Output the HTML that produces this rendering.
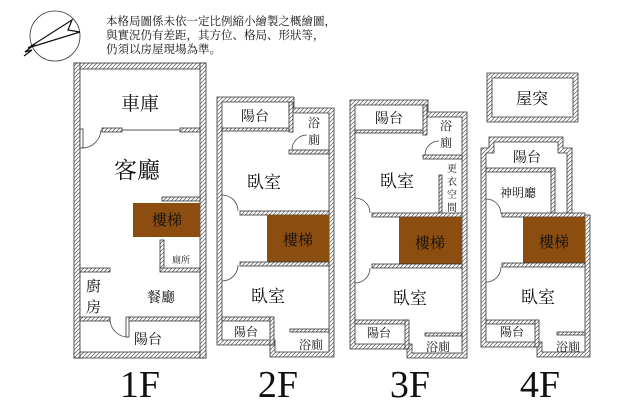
<!DOCTYPE html>
<html><head><meta charset="utf-8"><style>
html,body{margin:0;padding:0;background:#fff;}
svg{display:block}
text{font-family:"Liberation Serif","Noto Serif CJK SC","Noto Sans CJK TC",serif;fill:#111}
.w{fill:url(#h);stroke:#333;stroke-width:0.8}
.d{fill:none;stroke:#444;stroke-width:0.8}
</style></head><body>
<svg width="640" height="414" viewBox="0 0 640 414" xmlns="http://www.w3.org/2000/svg">
<defs>
<pattern id="h" width="4" height="4" patternUnits="userSpaceOnUse">
<rect width="4" height="4" fill="#fff"/>
<path d="M-1,5 L5,-1 M3,5 L5,3 M-1,1 L1,-1" stroke="#555" stroke-width="0.7"/>
</pattern>
</defs>
<!-- compass -->
<circle cx="55" cy="36" r="25" fill="none" stroke="#333" stroke-width="0.8"/>
<path d="M28,48 L72,20 L68,30 L80,32 Z" fill="none" stroke="#111" stroke-width="1.2"/>
<path d="M35,44 L25,52 L32,50 L24,56" fill="none" stroke="#111" stroke-width="1.2"/>
<text x="106" y="25" font-size="11.5" font-family="Noto Sans CJK TC">本格局圖係未依一定比例縮小繪製之概繪圖，</text>
<text x="106" y="39" font-size="11.5">與實況仍有差距，其方位、格局、形狀等，</text>
<text x="106" y="53" font-size="11.5">仍須以房屋現場為準。</text>

<!-- 1F -->
<rect class="w" x="74" y="63" width="132" height="6"/>
<rect class="w" x="74" y="352" width="132" height="6"/>
<rect class="w" x="74" y="63" width="6" height="295"/>
<rect class="w" x="200" y="63" width="6" height="295"/>
<rect class="w" x="102" y="128" width="20" height="4"/>
<rect class="w" x="180" y="128" width="20" height="4"/>
<line x1="122" y1="130" x2="180" y2="130" stroke="#555" stroke-width="1"/>
<path class="d" d="M82,148 A19,19 0 0 0 101,130"/>
<rect x="80" y="129" width="3" height="19" fill="#fff" stroke="#333" stroke-width="0.8"/>
<rect x="133" y="203" width="67" height="34" fill="#8b4d10"/>
<rect class="w" x="162" y="197" width="38" height="4"/>
<rect class="w" x="160" y="240" width="4" height="30"/>
<rect class="w" x="80" y="268" width="30" height="4"/>
<rect class="w" x="160" y="268" width="40" height="4"/>
<rect class="w" x="80" y="317" width="30" height="4"/>
<rect class="w" x="128" y="317" width="72" height="4"/>
<path class="d" d="M110,319 A18,18 0 0 0 128,337"/>
<rect x="126" y="317" width="3" height="20" fill="#fff" stroke="#333" stroke-width="0.8"/>
<text x="140" y="110" font-size="19" text-anchor="middle">車庫</text>
<text x="137" y="178" font-size="23" text-anchor="middle">客廳</text>
<text x="167" y="225" font-size="15" text-anchor="middle">樓梯</text>
<text x="181" y="263" font-size="9" text-anchor="middle">廁所</text>
<text x="86" y="291" font-size="15">廚</text>
<text x="86" y="312" font-size="15">房</text>
<text x="147" y="302" font-size="14">餐廳</text>
<text x="148" y="344" font-size="14" text-anchor="middle">陽台</text>
<text x="140" y="397" font-size="38" text-anchor="middle">1F</text>

<!-- 2F -->
<path class="w" d="M217,97 H294 V108 H334 V357 H270 V345 H217 Z M222,102 V340 H275 V352 H329 V113 H289 V102 Z" fill-rule="evenodd"/>
<rect class="w" x="222" y="128" width="67" height="3" />
<rect class="w" x="289" y="102" width="4" height="30"/>
<rect class="w" x="289" y="150" width="40" height="4"/>
<path class="d" d="M292,150 A15,15 0 0 1 307,135"/>
<rect class="w" x="240" y="211" width="89" height="4"/>
<path class="d" d="M222,195 A16,16 0 0 1 238,211"/>
<rect x="267" y="215" width="62" height="47" fill="#8b4d10"/>
<rect class="w" x="240" y="262" width="89" height="4"/>
<path class="d" d="M222,281 A16,16 0 0 0 238,265"/>
<rect class="w" x="222" y="317" width="50" height="4"/>
<rect class="w" x="270" y="317" width="4" height="28"/>
<rect class="w" x="290" y="329" width="39" height="3"/>
<text x="255" y="121" font-size="14" text-anchor="middle">陽台</text>
<text x="314" y="127" font-size="12" text-anchor="middle">浴</text>
<text x="314" y="144" font-size="12" text-anchor="middle">廁</text>
<text x="264" y="188" font-size="17" text-anchor="middle">臥室</text>
<text x="298" y="245" font-size="15" text-anchor="middle">樓梯</text>
<text x="268" y="302" font-size="17" text-anchor="middle">臥室</text>
<text x="246" y="336" font-size="12" text-anchor="middle">陽台</text>
<text x="311" y="349" font-size="12" text-anchor="middle">浴廁</text>
<text x="278" y="397" font-size="38" text-anchor="middle">2F</text>

<!-- 3F -->
<path class="w" d="M350,100 H428 V112 H467 V358 H407 V349 H350 Z M355,105 V344 H412 V353 H462 V117 H423 V105 Z" fill-rule="evenodd"/>
<rect class="w" x="355" y="130" width="68" height="3"/>
<rect class="w" x="423" y="105" width="4" height="30"/>
<rect class="w" x="423" y="155" width="39" height="4"/>
<path class="d" d="M425,155 A14,14 0 0 1 439,141"/>
<rect class="w" x="439" y="175" width="3" height="40"/>
<rect class="w" x="372" y="213" width="90" height="4"/>
<path class="d" d="M355,198 A15,15 0 0 1 370,213"/>
<rect x="399" y="217" width="63" height="47" fill="#8b4d10"/>
<rect class="w" x="372" y="264" width="90" height="4"/>
<path class="d" d="M355,283 A15,15 0 0 0 370,268"/>
<rect class="w" x="355" y="320" width="52" height="4"/>
<rect class="w" x="405" y="320" width="4" height="29"/>
<rect class="w" x="425" y="333" width="37" height="3"/>
<text x="389" y="123" font-size="14" text-anchor="middle">陽台</text>
<text x="446" y="130" font-size="12" text-anchor="middle">浴</text>
<text x="446" y="147" font-size="12" text-anchor="middle">廁</text>
<text x="452" y="172" font-size="10" text-anchor="middle">更</text>
<text x="452" y="185" font-size="10" text-anchor="middle">衣</text>
<text x="452" y="198" font-size="10" text-anchor="middle">空</text>
<text x="452" y="211" font-size="10" text-anchor="middle">間</text>
<text x="397" y="187" font-size="17" text-anchor="middle">臥室</text>
<text x="430" y="248" font-size="15" text-anchor="middle">樓梯</text>
<text x="410" y="304" font-size="17" text-anchor="middle">臥室</text>
<text x="379" y="337" font-size="12" text-anchor="middle">陽台</text>
<text x="438" y="351" font-size="12" text-anchor="middle">浴廁</text>
<text x="410" y="397" font-size="38" text-anchor="middle">3F</text>

<!-- 4F -->
<path class="w" d="M487,73 H578 V122 H487 Z M492,78 V117 H573 V78 Z" fill-rule="evenodd"/>
<text x="532" y="104" font-size="16" text-anchor="middle">屋突</text>
<path class="w" d="M481,148 H489 V137 H563 V148 H572 V215 H590 V357 H537 V347 H481 Z M486,153 V342 H542 V352 H585 V220 H567 V153 H558 V142 H494 V153 Z" fill-rule="evenodd"/>
<rect class="w" x="486" y="168" width="69" height="4"/>
<rect class="w" x="551" y="168" width="4" height="47"/>
<rect class="w" x="502" y="213" width="83" height="4"/>
<path class="d" d="M486,199 A15,15 0 0 1 501,214"/>
<rect x="523" y="217" width="62" height="46" fill="#8b4d10"/>
<rect class="w" x="502" y="263" width="83" height="4"/>
<path class="d" d="M486,282 A15,15 0 0 0 501,267"/>
<rect class="w" x="486" y="320" width="51" height="4"/>
<rect class="w" x="535" y="320" width="4" height="27"/>
<rect class="w" x="557" y="332" width="28" height="3"/>
<text x="527" y="162" font-size="14" text-anchor="middle">陽台</text>
<text x="518" y="197" font-size="12" text-anchor="middle">神明廳</text>
<text x="554" y="247" font-size="15" text-anchor="middle">樓梯</text>
<text x="538" y="303" font-size="17" text-anchor="middle">臥室</text>
<text x="512" y="336" font-size="12" text-anchor="middle">陽台</text>
<text x="568" y="351" font-size="12" text-anchor="middle">浴廁</text>
<text x="540" y="397" font-size="38" text-anchor="middle">4F</text>
</svg>
</body></html>
